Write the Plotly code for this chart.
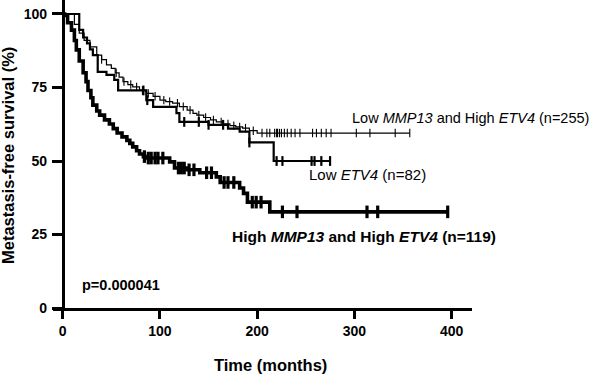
import plotly.graph_objects as go

# ---- data ----
# Low MMP13 and High ETV4 (n=255)  - thin line
time_a = [0, 10, 12, 17, 22, 28, 35, 40, 45, 50, 54, 58, 62, 67, 72, 79, 86, 93, 100, 106, 113,
          120, 128, 134, 138, 145, 152, 158, 165, 172, 178, 185, 192, 200, 357]
surv_a = [100, 100, 96.5, 93.5, 91, 88.8, 86, 84.5, 82.7, 81.5, 80, 78.5, 77, 76, 75.2, 74, 73, 72,
          70.7, 70.2, 69.7, 68.5, 67.3, 66.2, 65.6, 64.8, 64, 63.3, 62.6, 62, 61.6, 61.2, 60.3, 59.5, 59.5]
cens_a = [40, 55, 63, 70, 76, 82, 88, 95, 104, 110, 118, 124, 131, 140, 147, 155, 163, 170, 176, 182,
          188, 196, 205, 210, 213, 218, 220, 221, 223, 225, 228, 231, 235, 239, 244, 257, 261, 266, 271,
          276, 302, 316, 342, 357]

# Low ETV4 (n=82) - medium line
time_b = [0, 12, 17, 21, 25, 28, 31, 36, 45, 53, 57, 86, 93, 117, 120, 150, 170, 182, 192, 217, 275]
surv_b = [100, 100, 94.6, 92, 90, 88, 86, 80.3, 79.3, 77.6, 74, 70.7, 68.4, 66.3, 63.3, 62.3, 61, 60,
          56.3, 50, 50]
cens_b = [83, 87, 125, 140, 150, 165, 192, 220, 226, 256, 259, 266, 275]

# High MMP13 and High ETV4 (n=119) - thick line
time_c = [0, 2, 5, 9, 12, 14, 17, 21, 24, 26, 29, 31, 35, 38, 43, 48, 52, 56, 61, 66, 69, 72, 76, 79,
          83, 86, 110, 115, 128, 141, 158, 162, 182, 186, 190, 213, 396]
surv_c = [100, 99.5, 97, 94.5, 91, 87.8, 84, 80, 77, 74, 71.5, 69, 67, 65.6, 64, 62.6, 61, 59.5, 58.2,
          57, 56, 54.8, 53.5, 52.4, 51.5, 51, 49.7, 47.6, 47, 46, 44.6, 42.7, 40.8, 39, 36, 32.7, 32.7]
cens_c = [84, 88, 91, 95, 98, 103, 119, 122, 125, 130, 135, 148, 153, 166, 170, 176, 195, 199, 204,
          226, 241, 313, 324, 396]

x_ticks = [0, 100, 200, 300, 400]
y_ticks = [0, 25, 50, 75, 100]


def step_value(times, surv, t):
    v = surv[0]
    for ti, si in zip(times, surv):
        if ti <= t:
            v = si
    return v


FONT = "Liberation Sans"
fig = go.Figure()

series = [
    (time_a, surv_a, cens_a, 1.2, 6, 1.1),
    (time_b, surv_b, cens_b, 2.2, 7, 2.2),
    (time_c, surv_c, cens_c, 3.6, 9, 3.2),
]
for t, s, c, lw, msize, mlw in series:
    fig.add_trace(go.Scatter(x=t, y=s, mode="lines", line=dict(color="black", width=lw, shape="hv"),
                             showlegend=False, hoverinfo="skip"))
    fig.add_trace(go.Scatter(x=c, y=[step_value(t, s, ci) for ci in c], mode="markers",
                             marker=dict(symbol="line-ns-open", size=msize, color="black",
                                         line=dict(color="black", width=mlw)),
                             showlegend=False, hoverinfo="skip"))

fig.update_layout(
    width=593, height=374,
    margin=dict(l=53, r=121, t=0, b=66, autoexpand=False),
    paper_bgcolor="white", plot_bgcolor="white",
    xaxis=dict(range=[-10, 421], tickvals=x_ticks, ticks="outside", ticklen=8, tickwidth=2.5,
               tickcolor="black", showline=True, linecolor="black", linewidth=2.5,
               showgrid=False, zeroline=False,
               tickfont=dict(family=FONT, size=14, color="black", weight="bold")),
    yaxis=dict(range=[0, 104.76], tickvals=y_ticks, ticks="outside", ticklen=10, tickwidth=2.5,
               tickcolor="black", showline=True, linecolor="black", linewidth=2.8,
               showgrid=False, zeroline=False, anchor="free", position=10 / 431,
               ticklabelstandoff=2,
               tickfont=dict(family=FONT, size=14, color="black", weight="bold")),
)

ann = [
    dict(text="Low <i>MMP13</i> and High <i>ETV4</i> (n=255)", x=(350 - 53) / 419, y=(308 - 118) / 308,
         xanchor="left", yanchor="middle", font=dict(family=FONT, size=14.5, color="black")),
    dict(text="Low <i>ETV4</i> (n=82)", x=(307 - 53) / 419, y=(308 - 174) / 308,
         xanchor="left", yanchor="middle", font=dict(family=FONT, size=15, color="black")),
    dict(text="<b>High <i>MMP13</i> and High <i>ETV4</i> (n=119)</b>", x=(230 - 53) / 419,
         y=(308 - 236) / 308, xanchor="left", yanchor="middle",
         font=dict(family=FONT, size=15.5, color="black")),
    dict(text="<b>p=0.000041</b>", x=(80 - 53) / 419, y=(308 - 285) / 308,
         xanchor="left", yanchor="middle", font=dict(family=FONT, size=14.5, color="black")),
    dict(text="<b>Time (months)</b>", x=(270 - 53) / 419, y=(308 - 365) / 308,
         xanchor="center", yanchor="middle", font=dict(family=FONT, size=16.5, color="black")),
    dict(text="<b>Metastasis-free survival (%)</b>", x=(8 - 53) / 419, y=(308 - 156) / 308,
         xanchor="center", yanchor="middle", textangle=-90,
         font=dict(family=FONT, size=16.5, color="black")),
]
for a in ann:
    a.update(xref="paper", yref="paper", showarrow=False)
fig.update_layout(annotations=ann)

fig.write_html("out.html", config={"displayModeBar": False},
               post_script="document.body.style.margin='0';document.body.style.padding='0';")
